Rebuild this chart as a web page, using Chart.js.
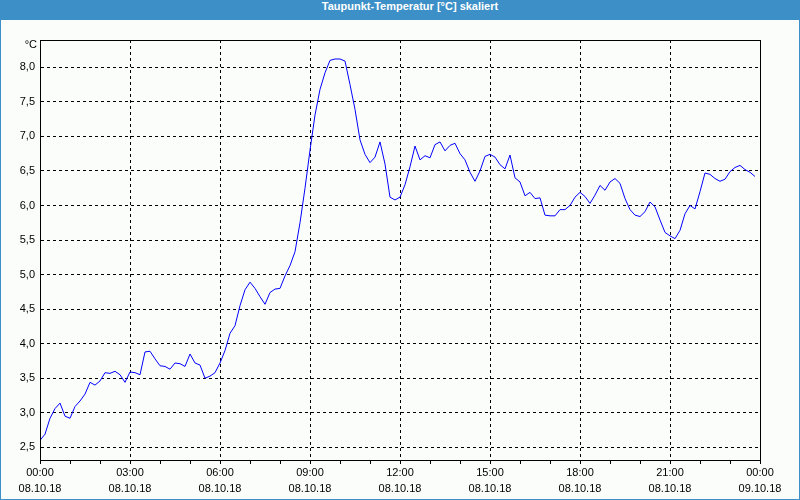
<!DOCTYPE html>
<html>
<head>
<meta charset="utf-8">
<script src="https://cdn.jsdelivr.net/npm/chart.js@4"></script>
<style>
    body { margin: 0; background: #fff; }
    #frame {
        width: 800px; height: 500px; box-sizing: border-box;
        border: 1px solid #3d8fc7; border-top: none;
        background: #fbfdfb;
    }
    #title {
        height: 20px; line-height: 19px; background: #3d8fc7; color: #fff;
        font: bold 11px "Liberation Sans", Arial, sans-serif;
        text-align: center; padding-left: 20px;
    }
    #wrap { position: relative; width: 798px; height: 479px; }
</style>
</head>
<body>
<div id="frame">
    <div id="title">Taupunkt-Temperatur [°C] skaliert</div>
    <div id="wrap"><canvas id="chart"></canvas></div>
</div>
<script>
// Dew point, 10 minute samples from 08.10.18 00:00
const dewPoint = [
    2.60, 2.69, 2.92, 3.06, 3.14, 2.95, 2.92, 3.09, 3.17, 3.27, 3.44, 3.40, 3.46, 3.58, 3.57, 3.60, 3.55, 3.44,
    3.59, 3.58, 3.55, 3.88, 3.89, 3.78, 3.68, 3.67, 3.63, 3.72, 3.71, 3.67, 3.85, 3.72, 3.69, 3.50, 3.53, 3.58,
    3.72, 3.90, 4.15, 4.26, 4.55, 4.78, 4.89, 4.80, 4.68, 4.57, 4.74, 4.79, 4.80, 4.98, 5.13, 5.33, 5.75, 6.25,
    6.80, 7.31, 7.68, 7.92, 8.10, 8.12, 8.12, 8.09, 7.75, 7.39, 6.95, 6.74, 6.62, 6.70, 6.92, 6.60, 6.12, 6.08,
    6.12, 6.30, 6.56, 6.86, 6.66, 6.72, 6.69, 6.88, 6.92, 6.79, 6.87, 6.90, 6.75, 6.66, 6.48, 6.35, 6.50, 6.71,
    6.74, 6.70, 6.59, 6.53, 6.73, 6.40, 6.34, 6.14, 6.19, 6.10, 6.11, 5.86, 5.85, 5.85, 5.94, 5.94, 6.00, 6.12,
    6.19, 6.13, 6.03, 6.15, 6.29, 6.22, 6.34, 6.39, 6.32, 6.10, 5.94, 5.86, 5.84, 5.91, 6.05, 5.98, 5.79, 5.61,
    5.56, 5.52, 5.64, 5.88, 6.00, 5.95, 6.20, 6.47, 6.45, 6.39, 6.35, 6.38, 6.49, 6.55, 6.58, 6.52, 6.48, 6.42
];
const SAMPLE_MINUTES = 10;

// x axis labels, one every 3 hours
const tickTimes = ['00:00', '03:00', '06:00', '09:00', '12:00', '15:00', '18:00', '21:00', '00:00'];
const tickDates = ['08.10.18', '08.10.18', '08.10.18', '08.10.18', '08.10.18', '08.10.18', '08.10.18', '08.10.18', '09.10.18'];

const Y_MIN = 2.316;
const Y_MAX = 8.395;
const FONT = { family: '"Liberation Sans", Arial, sans-serif', size: 11 };

const points = dewPoint.map((v, i) => ({ x: i * SAMPLE_MINUTES, y: v }));

// black frame round the plot and the unit label
const framePlugin = {
    id: 'frame',
    afterDraw(chart) {
        const { ctx, chartArea: a } = chart;
        const left = Math.round(a.left) + 0.5;
        const top = Math.round(a.top) + 0.5;
        ctx.save();
        ctx.strokeStyle = '#000';
        ctx.lineWidth = 1;
        ctx.strokeRect(left, top, Math.round(a.right - a.left), Math.round(a.bottom - a.top));
        ctx.fillStyle = '#000';
        ctx.font = '11px ' + FONT.family;
        ctx.textAlign = 'right';
        ctx.textBaseline = 'middle';
        ctx.fillText('°C', a.left - 3, a.top + 5);
        ctx.restore();
    }
};

new Chart(document.getElementById('chart').getContext('2d'), {
    type: 'line',
    data: {
        datasets: [{
            data: points,
            borderColor: '#0000ff',
            borderWidth: 1,
            pointRadius: 0,
            tension: 0,
            fill: false
        }]
    },
    options: {
        responsive: true,
        maintainAspectRatio: false,
        animation: false,
        events: [],
        layout: { padding: { left: 0, top: 20, right: 39, bottom: 0 } },
        plugins: {
            legend: { display: false },
            tooltip: { enabled: false }
        },
        scales: {
            x: {
                type: 'linear',
                min: 0,
                max: 1440,
                afterFit: s => { s.height = 39; },
                border: { display: true, color: '#000', width: 1, dash: [3, 3] },
                grid: {
                    color: c => (c.tick && c.tick.value % 180 === 0 && c.tick.value < 1440) ? '#000' : 'rgba(0,0,0,0)',
                    tickColor: '#000',
                    tickLength: 4,
                    drawTicks: true
                },
                ticks: {
                    stepSize: 60,
                    autoSkip: false,
                    maxRotation: 0,
                    padding: 1,
                    color: '#000',
                    font: { ...FONT, lineHeight: 1.45 },
                    callback: v => {
                        if (v % 180 !== 0) return '';
                        const k = v / 180;
                        return [tickTimes[k], tickDates[k]];
                    }
                }
            },
            y: {
                min: Y_MIN,
                max: Y_MAX,
                afterFit: s => { s.width = 39; },
                border: { display: true, color: '#000', width: 1, dash: [3, 3] },
                grid: { color: '#000', drawTicks: false },
                ticks: {
                    stepSize: 0.5,
                    includeBounds: false,
                    padding: 5,
                    color: '#000',
                    font: FONT,
                    callback: v => v.toFixed(1).replace('.', ',')
                }
            }
        }
    },
    plugins: [framePlugin]
});
</script>
</body>
</html>
